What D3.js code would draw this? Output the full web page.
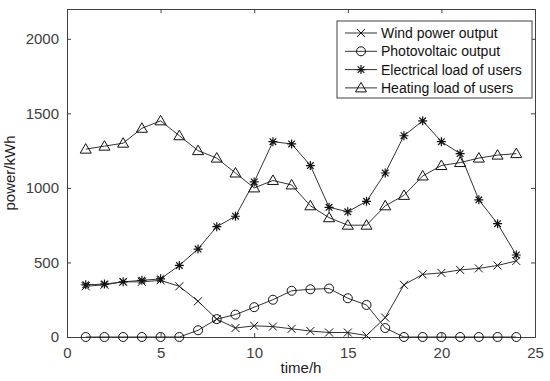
<!DOCTYPE html>
<html>
<head>
<meta charset="utf-8">
<script src="https://d3js.org/d3.v7.min.js"></script>
<style>
  body { margin: 0; background: #fff; }
  text { font-family: "Liberation Sans", Arial, sans-serif; }
</style>
</head>
<body>
<div id="chart"></div>
<script>
  // data
  var hours = d3.range(1, 25);
  var wind = [340, 350, 370, 370, 380, 340, 240, 120, 60, 75, 70, 55, 40, 30, 30, 10, 130, 350, 420, 430, 450, 460, 480, 510];
  var pv = [0, 0, 0, 0, 0, 0, 45, 120, 150, 200, 250, 310, 320, 325, 260, 215, 60, 0, 0, 0, 0, 0, 0, 0];
  var elec = [350, 355, 370, 380, 390, 480, 590, 740, 810, 1040, 1310, 1295, 1150, 870, 840, 910, 1100, 1350, 1450, 1310, 1230, 920, 760, 550];
  var heat = [1260, 1280, 1300, 1400, 1450, 1350, 1250, 1200, 1100, 1000, 1050, 1020, 880, 800, 750, 750, 880, 950, 1080, 1150, 1170, 1200, 1220, 1230];
  var seriesNames = ["Wind power output", "Photovoltaic output", "Electrical load of users", "Heating load of users"];
  var xTicks = [0, 5, 10, 15, 20, 25];
  var yTicks = [0, 500, 1000, 1500, 2000];

  var width = 550, height = 381;
  var margin = {left: 67, right: 15, top: 9, bottom: 44};
  var w = width - margin.left - margin.right;
  var h = height - margin.top - margin.bottom;

  var svg = d3.select("#chart").append("svg")
    .attr("width", width)
    .attr("height", height);

  var g = svg.append("g").attr("transform", "translate(" + margin.left + "," + margin.top + ")");

  var x = d3.scaleLinear().domain([0, 25]).range([0, w]);
  var y = d3.scaleLinear().domain([0, 2200]).range([h, 0]);

  var axisColor = "#404040";
  var fmt = d3.format("d");

  // axes, ticks inward like matlab
  var xb = g.append("g").attr("transform", "translate(0," + h + ")")
    .call(d3.axisBottom(x).tickValues(xTicks).tickSize(-4).tickPadding(8).tickFormat(fmt));
  var xt = g.append("g")
    .call(d3.axisTop(x).tickValues(xTicks).tickSize(-4).tickFormat(""));
  var yl = g.append("g")
    .call(d3.axisLeft(y).tickValues(yTicks).tickSize(-4).tickPadding(8).tickFormat(fmt));
  var yr = g.append("g").attr("transform", "translate(" + w + ",0)")
    .call(d3.axisRight(y).tickValues(yTicks).tickSize(-4).tickFormat(""));

  [xb, xt, yl, yr].forEach(function(a) {
    a.selectAll("path").attr("stroke", axisColor).attr("stroke-width", 1);
    a.selectAll("line").attr("stroke", axisColor);
    a.selectAll("text").attr("fill", axisColor).style("font-size", "15px");
  });
  xb.selectAll("text").attr("dy", "0.85em");

  g.append("text")
    .attr("x", w / 2)
    .attr("y", h + 36)
    .attr("text-anchor", "middle")
    .attr("fill", "#222")
    .style("font-size", "15px")
    .text("time/h");

  g.append("text")
    .attr("transform", "rotate(-90)")
    .attr("x", -h / 2)
    .attr("y", -52)
    .attr("text-anchor", "middle")
    .attr("fill", "#222")
    .style("font-size", "15px")
    .text("power/kWh");

  // marker drawing
  function drawMarker(sel, type) {
    if (type == "x") {
      sel.append("path").attr("d", "M-4,-4L4,4M-4,4L4,-4")
        .attr("stroke", "#111").attr("fill", "none").attr("stroke-width", 1);
    } else if (type == "o") {
      sel.append("circle").attr("r", 4.5)
        .attr("stroke", "#111").attr("fill", "none").attr("stroke-width", 1);
    } else if (type == "*") {
      sel.append("path").attr("d", "M-4.5,0L4.5,0M0,-4.5L0,4.5M-3.3,-3.3L3.3,3.3M-3.3,3.3L3.3,-3.3")
        .attr("stroke", "#111").attr("fill", "none").attr("stroke-width", 1.2);
    } else {
      sel.append("path").attr("d", "M0,-5.5L5.5,4L-5.5,4Z")
        .attr("stroke", "#111").attr("fill", "none").attr("stroke-width", 1);
    }
  }

  var series = [
    {name: seriesNames[0], values: wind, marker: "x"},
    {name: seriesNames[1], values: pv, marker: "o"},
    {name: seriesNames[2], values: elec, marker: "*"},
    {name: seriesNames[3], values: heat, marker: "^"}
  ];

  var line = d3.line()
    .x(function(d, i) { return x(hours[i]); })
    .y(function(d) { return y(d); });

  series.forEach(function(s) {
    g.append("path")
      .attr("d", line(s.values))
      .attr("fill", "none")
      .attr("stroke", "#333")
      .attr("stroke-width", 1);
    g.selectAll(null)
      .data(s.values)
      .enter()
      .append("g")
      .attr("transform", function(d, i) { return "translate(" + x(hours[i]) + "," + y(d) + ")"; })
      .each(function() { drawMarker(d3.select(this), s.marker); });
  });

  // legend
  var lg = svg.append("g").attr("transform", "translate(337,21)");
  lg.append("rect")
    .attr("width", 195).attr("height", 77)
    .attr("fill", "#fff").attr("stroke", axisColor).attr("stroke-width", 1);
  series.forEach(function(s, i) {
    var row = lg.append("g").attr("transform", "translate(0," + (12 + i * 18.3) + ")");
    row.append("line").attr("x1", 8).attr("x2", 40).attr("y1", 0).attr("y2", 0)
      .attr("stroke", "#333").attr("stroke-width", 1);
    var m = row.append("g").attr("transform", "translate(24,0)");
    drawMarker(m, s.marker);
    row.append("text").attr("x", 44).attr("y", 0).attr("dy", "0.35em")
      .attr("fill", "#111").style("font-size", "14px").text(s.name);
  });
</script>
</body>
</html>
